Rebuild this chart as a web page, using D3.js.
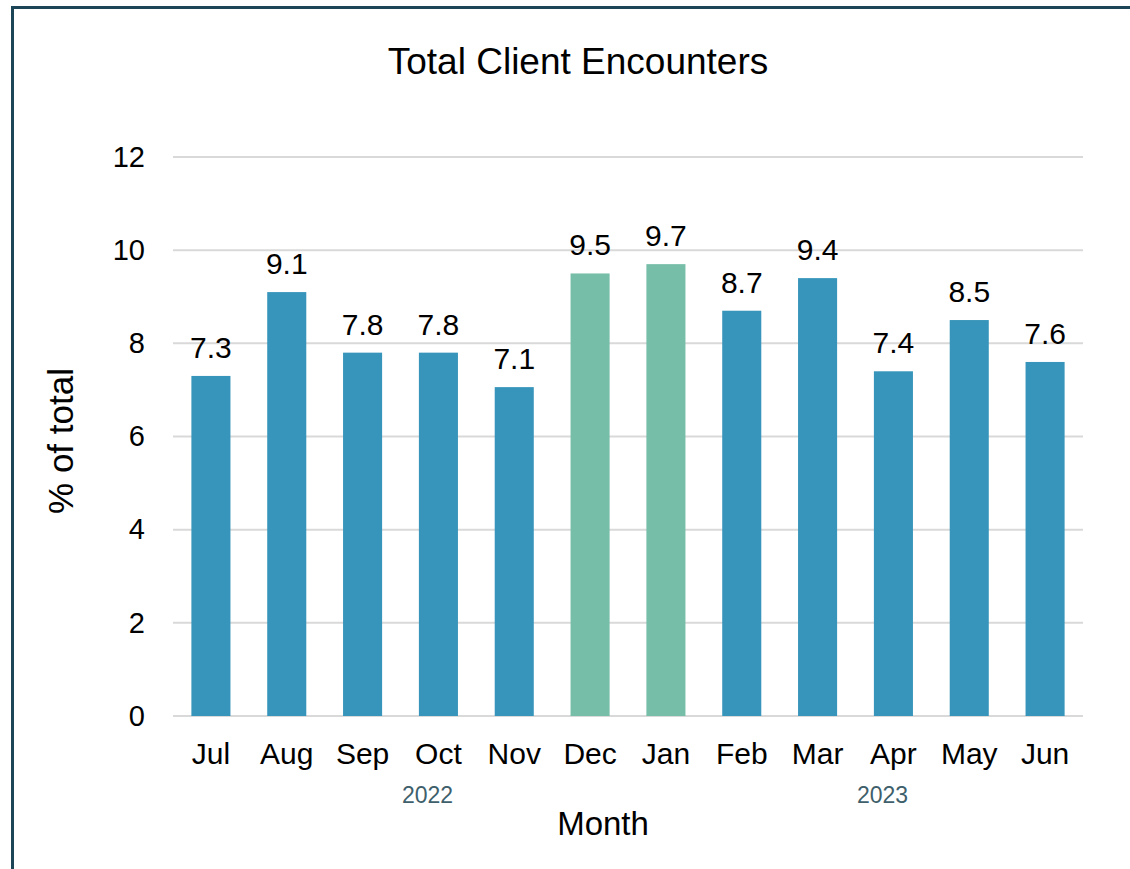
<!DOCTYPE html>
<html>
<head>
<meta charset="utf-8">
<script src="https://cdn.jsdelivr.net/npm/d3@7"></script>
<style>
  body { margin: 0; background: #fff; }
  svg text { font-family: "Liberation Sans", Arial, sans-serif; }
</style>
</head>
<body>
<svg id="chart" width="1130" height="869"></svg>
<script>
'use strict';

// chart data
var months = ['Jul', 'Aug', 'Sep', 'Oct', 'Nov', 'Dec', 'Jan', 'Feb', 'Mar', 'Apr', 'May', 'Jun'];
var values = [7.3, 9.1, 7.8, 7.8, 7.06, 9.5, 9.7, 8.7, 9.4, 7.4, 8.5, 7.6];
var years = ['2022', '2022', '2022', '2022', '2022', '2022', '2023', '2023', '2023', '2023', '2023', '2023'];
var highlighted = ['Dec', 'Jan'];
var yTicks = [0, 2, 4, 6, 8, 10, 12];

var BLUE = '#3795bb', GREEN = '#77bea8';

var svg = d3.select('#chart');

// outer frame (cut off on the right/bottom in the original)
svg.append('rect')
  .attr('x', 12.5).attr('y', 7.5)
  .attr('width', 1200).attr('height', 1000)
  .attr('fill', 'none')
  .attr('stroke', '#1c4657')
  .attr('stroke-width', 3);

var x = d3.scaleBand().domain(months).range([173, 1083]).paddingInner(0.485).paddingOuter(0.2425);
var y = d3.scaleLinear().domain([0, 12]).range([716, 157]);

// gridlines
svg.append('g')
  .selectAll('line')
  .data(yTicks)
  .enter().append('line')
  .attr('x1', 173).attr('x2', 1083)
  .attr('y1', function (d) { return y(d); })
  .attr('y2', function (d) { return y(d); })
  .attr('stroke', '#d9d9d9')
  .attr('stroke-width', 2);

// y axis labels
var yAxis = svg.append('g')
  .attr('transform', 'translate(173,0)')
  .call(d3.axisLeft(y).tickValues(yTicks).tickSize(0).tickPadding(28));
yAxis.select('.domain').remove();
yAxis.selectAll('text')
  .attr('font-size', 29)
  .attr('fill', '#000');

// bars
svg.append('g')
  .selectAll('rect')
  .data(months)
  .enter().append('rect')
  .attr('x', function (d) { return x(d); })
  .attr('width', x.bandwidth())
  .attr('y', function (d, i) { return y(values[i]); })
  .attr('height', function (d, i) { return y(0) - y(values[i]); })
  .attr('fill', function (d) { return highlighted.indexOf(d) >= 0 ? GREEN : BLUE; });

// value labels
svg.append('g')
  .selectAll('text')
  .data(months)
  .enter().append('text')
  .attr('x', function (d) { return x(d) + x.bandwidth() / 2; })
  .attr('y', function (d, i) { return y(values[i]) - 18; })
  .attr('text-anchor', 'middle')
  .attr('font-size', 30)
  .text(function (d, i) { return values[i].toFixed(1); });

// x axis month labels
var xAxis = svg.append('g')
  .attr('transform', 'translate(0,716)')
  .call(d3.axisBottom(x).tickSize(0).tickPadding(27));
xAxis.select('.domain').remove();
xAxis.selectAll('text')
  .attr('font-size', 30)
  .attr('fill', '#000');

// year group labels
var yearGroups = d3.groups(months.map(function (m, i) { return { m: m, yr: years[i] }; }), function (d) { return d.yr; });
svg.append('g')
  .selectAll('text')
  .data(yearGroups)
  .enter().append('text')
  .attr('x', function (g) {
    var first = g[1][0].m, last = g[1][g[1].length - 1].m;
    return (x(first) + x(last) + x.bandwidth()) / 2 + 27;
  })
  .attr('y', 803)
  .attr('text-anchor', 'middle')
  .attr('font-size', 23)
  .attr('fill', '#3e5f6b')
  .text(function (g) { return g[0]; });

// titles
svg.append('text')
  .attr('x', 578).attr('y', 74)
  .attr('text-anchor', 'middle')
  .attr('font-size', 37)
  .text('Total Client Encounters');

svg.append('text')
  .attr('x', 603).attr('y', 835)
  .attr('text-anchor', 'middle')
  .attr('font-size', 33)
  .text('Month');

svg.append('text')
  .attr('transform', 'translate(73,441) rotate(-90)')
  .attr('text-anchor', 'middle')
  .attr('font-size', 35)
  .text('% of total');
</script>
</body>
</html>
